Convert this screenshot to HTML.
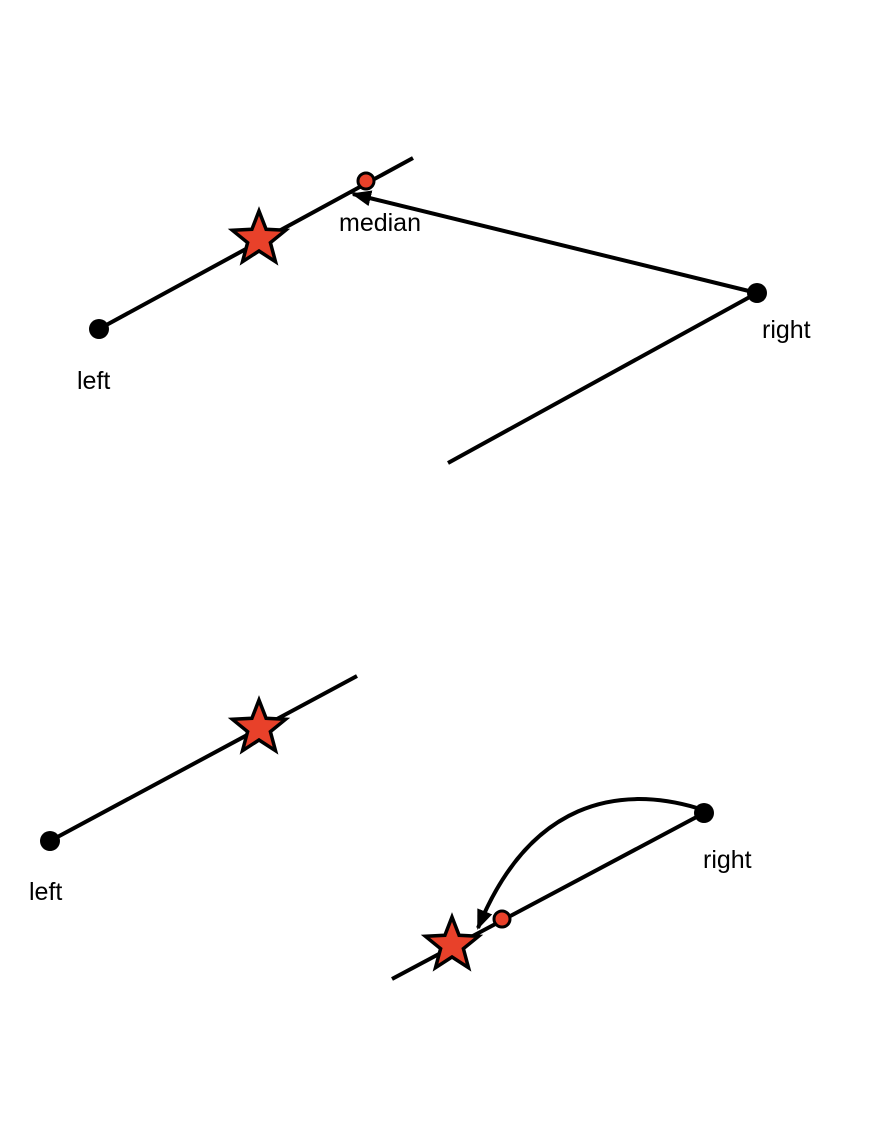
<!DOCTYPE html>
<html><head><meta charset="utf-8"><style>
html,body{margin:0;padding:0;background:#fff}
svg{display:block}
text{font-family:"Liberation Sans",sans-serif;font-size:25px;fill:#000}
</style></head><body>
<svg id="chart" width="876" height="1141" viewBox="0 0 876 1141" xmlns="http://www.w3.org/2000/svg">
<defs>
<marker id="ah" markerWidth="20" markerHeight="16" refX="18" refY="8" orient="auto" markerUnits="userSpaceOnUse" viewBox="0 0 20 16">
<path d="M0,0 L20,8 L0,16 z" fill="#000"/>
</marker>
</defs>
</svg>
<script>
const NS='http://www.w3.org/2000/svg';
const svg=document.getElementById('chart');
// segments [x1,y1,x2,y2]
const segments=[[99,329,413,158],[757,293,448,463],[50,841,357,676],[392,979,704,813]];
const dots=[[99,329],[757,293],[50,841],[704,813]];
const medians=[[366,181],[502,919]];
const stars=[[259,239],[259,728],[452,945]];
const labels=[["median",339,231],["left",77,389],["right",762,338],["left",29,900],["right",703,868]];
function mk(t,a,name){const e=document.createElementNS(NS,t);for(const k in a)e.setAttribute(k,a[k]);


svg.appendChild(e);return e;}
segments.forEach(s=>mk('line',{x1:s[0],y1:s[1],x2:s[2],y2:s[3],stroke:'#000','stroke-width':4},'segment-line'));
mk('line',{x1:757,y1:293,x2:353,y2:194,stroke:'#000','stroke-width':4,'marker-end':'url(#ah)'},'median-arrow');
mk('path',{d:'M697,808 C620,785 530,800 478,928',fill:'none',stroke:'#000','stroke-width':4,'marker-end':'url(#ah)'},'median-arc-arrow');
dots.forEach(d=>mk('circle',{cx:d[0],cy:d[1],r:10,fill:'#000'},'endpoint-dot'));
medians.forEach(d=>mk('circle',{cx:d[0],cy:d[1],r:8,fill:'#e8412a',stroke:'#000','stroke-width':3},'median-point'));
stars.forEach(s=>{let p=[];for(let i=0;i<10;i++){const r=i%2?12:28;const a=-Math.PI/2+i*Math.PI/5;p.push((s[0]+r*Math.cos(a)).toFixed(1)+','+(s[1]+r*Math.sin(a)).toFixed(1));}
mk('polygon',{points:p.join(' '),fill:'#e8412a',stroke:'#000','stroke-width':3.5,'stroke-linejoin':'miter'},'star-marker');});
labels.forEach(l=>{const t=mk('text',{x:l[1],y:l[2]},'label-'+l[0]);t.textContent=l[0];});
</script>
</body></html>
